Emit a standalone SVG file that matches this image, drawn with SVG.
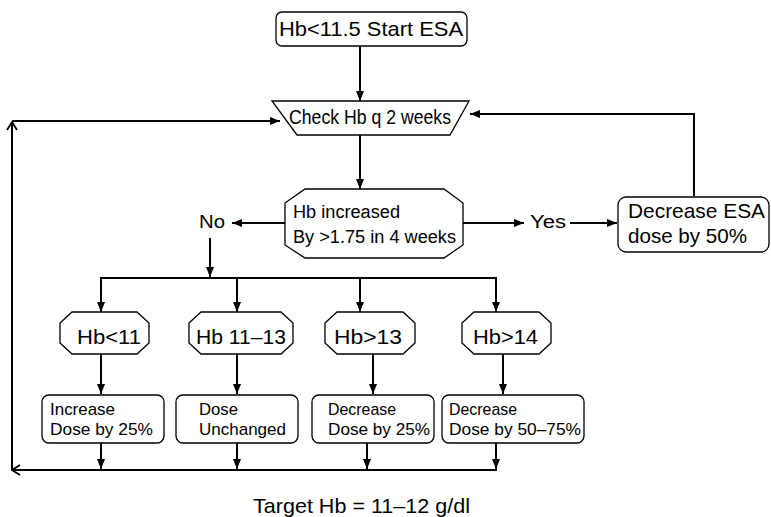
<svg xmlns="http://www.w3.org/2000/svg" width="771" height="517" viewBox="0 0 771 517">
<style>
.shape{fill:#fff;stroke:#000;stroke-width:1.3}
.c{fill:none;stroke:#000;stroke-width:2}
text{font-family:"Liberation Sans",Arial,sans-serif;fill:#000}
.big{font-size:21px}
.mid{font-size:18px}
.sm{font-size:17px}
</style>
<defs>
<marker id="ah" markerUnits="userSpaceOnUse" markerWidth="10" markerHeight="10" viewBox="0 0 10 10" refX="10" refY="5" orient="auto">
<path d="M0,1 L10,5 L0,9 Z" fill="#000"/>
</marker>
<marker id="oh" markerUnits="userSpaceOnUse" markerWidth="12" markerHeight="12" viewBox="0 0 12 12" refX="11" refY="6" orient="auto">
<path d="M3,1 L11,6 L3,11" fill="none" stroke="#000" stroke-width="1.8"/>
</marker>
</defs>
<rect width="771" height="517" fill="#fff"/>
<g id="connectors">
<line class="c" x1="360" y1="46" x2="360" y2="101" marker-end="url(#ah)"/>
<line class="c" x1="360" y1="135" x2="360" y2="189" marker-end="url(#ah)"/>
<line class="c" x1="285" y1="223" x2="232" y2="223" marker-end="url(#ah)"/>
<line class="c" x1="210" y1="238" x2="210" y2="277" marker-end="url(#ah)"/>
<line class="c" x1="100" y1="278" x2="497" y2="278"/>
<line class="c" x1="101" y1="278" x2="101" y2="312" marker-end="url(#ah)"/>
<line class="c" x1="237" y1="278" x2="237" y2="312" marker-end="url(#ah)"/>
<line class="c" x1="360" y1="278" x2="360" y2="312" marker-end="url(#ah)"/>
<line class="c" x1="496" y1="278" x2="496" y2="312" marker-end="url(#ah)"/>
<line class="c" x1="463" y1="223" x2="524" y2="223" marker-end="url(#ah)"/>
<line class="c" x1="570" y1="223" x2="617" y2="223" marker-end="url(#ah)"/>
<polyline class="c" points="694,196 694,114 470,114" marker-end="url(#ah)"/>
<line class="c" x1="101" y1="354" x2="101" y2="394" marker-end="url(#ah)"/>
<line class="c" x1="237" y1="354" x2="237" y2="394" marker-end="url(#ah)"/>
<line class="c" x1="373" y1="354" x2="373" y2="394" marker-end="url(#ah)"/>
<line class="c" x1="503" y1="354" x2="503" y2="394" marker-end="url(#ah)"/>
<line class="c" x1="101" y1="443" x2="101" y2="469" marker-end="url(#ah)"/>
<line class="c" x1="237" y1="443" x2="237" y2="469" marker-end="url(#ah)"/>
<line class="c" x1="367" y1="443" x2="367" y2="469" marker-end="url(#ah)"/>
<line class="c" x1="496" y1="443" x2="496" y2="469" marker-end="url(#ah)"/>
<line class="c" x1="497" y1="470" x2="12" y2="470" marker-end="url(#oh)"/>
<line class="c" x1="12" y1="470" x2="12" y2="122" marker-end="url(#oh)"/>
<line class="c" x1="12" y1="121" x2="280" y2="121" marker-end="url(#ah)"/>
</g>
<g id="start">
<rect class="shape" x="276" y="12" width="191" height="34" rx="6"/>
<text class="big" x="279" y="36" textLength="184" lengthAdjust="spacingAndGlyphs">Hb&lt;11.5 Start ESA</text>
</g>
<g id="check">
<polygon class="shape" points="272,101 469,101 450,135 297,135"/>
<text class="big" x="289" y="124" textLength="162" lengthAdjust="spacingAndGlyphs">Check Hb q 2 weeks</text>
</g>
<g id="decision">
<polygon class="shape" points="305,189 444,189 463,203 463,245 444,258 305,258 285,245 285,203"/>
<text class="mid" x="293" y="218" textLength="107" lengthAdjust="spacingAndGlyphs">Hb increased</text>
<text class="mid" x="293" y="243" textLength="163" lengthAdjust="spacingAndGlyphs">By &gt;1.75 in 4 weeks</text>
</g>
<g id="no">
<text class="mid" x="199" y="228" textLength="26" lengthAdjust="spacingAndGlyphs">No</text>
</g>
<g id="yes">
<text class="mid" x="530" y="228" textLength="36" lengthAdjust="spacingAndGlyphs">Yes</text>
</g>
<g id="decreaseESA">
<rect class="shape" x="618" y="197" width="151" height="55" rx="8"/>
<text class="big" x="628" y="218" textLength="137" lengthAdjust="spacingAndGlyphs">Decrease ESA</text>
<text class="big" x="628" y="243" textLength="119" lengthAdjust="spacingAndGlyphs">dose by 50%</text>
</g>
<g id="hb11">
<polygon class="shape" points="72,312 137,312 149,323 149,343 137,354 72,354 60,343 60,323"/>
<text class="big" x="77" y="344" textLength="64" lengthAdjust="spacingAndGlyphs">Hb&lt;11</text>
</g>
<g id="hb1113">
<polygon class="shape" points="201,312 281,312 293,323 293,343 281,354 201,354 189,343 189,323"/>
<text class="big" x="196" y="344" textLength="90" lengthAdjust="spacingAndGlyphs">Hb 11–13</text>
</g>
<g id="hb13">
<polygon class="shape" points="337,312 403,312 415,323 415,343 403,354 337,354 325,343 325,323"/>
<text class="big" x="334" y="344" textLength="68" lengthAdjust="spacingAndGlyphs">Hb&gt;13</text>
</g>
<g id="hb14">
<polygon class="shape" points="474,312 539,312 551,323 551,343 539,354 474,354 462,343 462,323"/>
<text class="big" x="473" y="344" textLength="65" lengthAdjust="spacingAndGlyphs">Hb&gt;14</text>
</g>
<g id="box1">
<rect class="shape" x="42" y="395" width="122" height="48" rx="7"/>
<text class="sm" x="50" y="415" textLength="65" lengthAdjust="spacingAndGlyphs">Increase</text>
<text class="sm" x="50" y="435" textLength="103" lengthAdjust="spacingAndGlyphs">Dose by 25%</text>
</g>
<g id="box2">
<rect class="shape" x="176" y="395" width="122" height="48" rx="7"/>
<text class="sm" x="199" y="415" textLength="39" lengthAdjust="spacingAndGlyphs">Dose</text>
<text class="sm" x="199" y="435" textLength="87" lengthAdjust="spacingAndGlyphs">Unchanged</text>
</g>
<g id="box3">
<rect class="shape" x="312" y="395" width="122" height="48" rx="7"/>
<text class="sm" x="328" y="415" textLength="68" lengthAdjust="spacingAndGlyphs">Decrease</text>
<text class="sm" x="328" y="435" textLength="102" lengthAdjust="spacingAndGlyphs">Dose by 25%</text>
</g>
<g id="box4">
<rect class="shape" x="442" y="395" width="142" height="48" rx="7"/>
<text class="sm" x="449" y="415" textLength="68" lengthAdjust="spacingAndGlyphs">Decrease</text>
<text class="sm" x="449" y="435" textLength="132" lengthAdjust="spacingAndGlyphs">Dose by 50–75%</text>
</g>
<g id="target">
<text class="big" x="253" y="513" textLength="217" lengthAdjust="spacingAndGlyphs">Target Hb = 11–12 g/dl</text>
</g>
</svg>
